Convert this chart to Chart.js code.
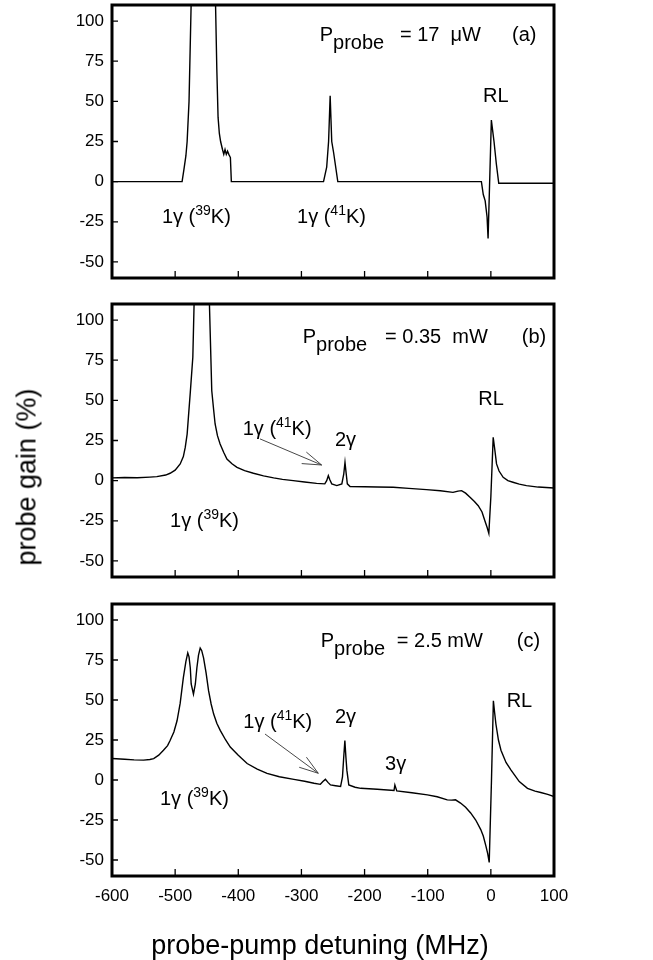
<!DOCTYPE html>
<html>
<head>
<meta charset="utf-8">
<script src="https://cdn.jsdelivr.net/npm/chart.js@4.4.0/dist/chart.umd.min.js"></script>
<style>
  body { margin: 0; background: #fff; width: 653px; height: 960px; position: relative; overflow: hidden;
         font-family: "Liberation Sans", Arial, sans-serif; }
  canvas { position: absolute; left: 0; }
  .ttl { position: absolute; font-size: 27px; color: #000; white-space: nowrap; }
  #ytitle { left: 27px; top: 477px; transform: translate(-50%, -50%) rotate(-90deg); }
  #xtitle { left: 320px; top: 945px; transform: translate(-50%, -50%); }
</style>
</head>
<body>
<canvas id="panel-a" width="653" height="290" style="top:0px"></canvas>
<canvas id="panel-b" width="653" height="300" style="top:290px"></canvas>
<canvas id="panel-c" width="653" height="370" style="top:590px"></canvas>
<div class="ttl" id="ytitle">probe gain (%)</div>
<div class="ttl" id="xtitle">probe-pump detuning (MHz)</div>
<script>
const xTicks = [-600, -500, -400, -300, -200, -100, 0, 100];
const yTicks = [-50, -25, 0, 25, 50, 75, 100];

// (a) P_probe = 17 uW
const detuningA = [-600, -489, -486, -483, -481, -478, -474.7, -470, -455, -440, -436, -434, -432, -430, -428,
  -425, -423, -421, -419, -417, -415, -412.5, -411, -265, -260, -257, -254.5, -252, -249, -242.4,
  -15, -12, -9, -6, -4.4, 0.8, 5, 8.7, 12.5, 100];
const gainA = [0, 0, 7.8, 16, 25, 50, 110, 200, 350, 200, 110, 70, 40, 30, 25,
  20, 17, 20, 17, 19, 17, 15, 0, 0, 9, 25, 53.5, 25, 18, 0,
  0, -8, -12, -22, -35.4, 38.3, 25, 11, -1, -1];

// (b) P_probe = 0.35 mW
const detuningB = [-600, -580, -560, -540, -529, -515, -508, -500, -492, -487, -484, -481, -479, -476, -472,
  -470, -465, -458, -450, -445.7, -442, -439, -436.7, -433, -428.8, -423, -418, -410, -402, -390,
  -376, -360, -344, -330, -313, -295, -276, -263, -260, -257.4, -255, -252, -244, -236, -233,
  -231, -229, -227.3, -223, -200, -180, -154.6, -130, -102, -80, -60, -52, -46.4, -40, -33,
  -26, -20, -14, -9.5, -6, -3.2, 0, 3.7, 6, 9, 13, 19.5, 27, 35, 45, 56.4, 75, 100];
const gainB = [1.7, 2, 1.8, 2.2, 2.5, 3.5, 4.6, 6.5, 10.4, 15, 20.7, 29, 39.4, 55, 76.8,
  110, 180, 250, 180, 110, 56, 44, 35.3, 28, 22.8, 17.5, 13.5, 10.5, 8.3, 6.2,
  4.6, 3, 1.7, 0.8, 0, -0.8, -1.7, -2, 0, 3.1, 0.5, -2, -3.1, -2, 4,
  11.4, 4, -2, -3.7, -3.8, -4, -4.1, -4.8, -5.6, -6.3, -7.3, -6.5, -6.2, -7.8, -10.4,
  -13, -15.6, -19.5, -25, -29, -32.8, -10, 27, 20, 10.4, 6, 2.1, 0, -1, -2.2, -3.1, -4, -4.6];

// (c) P_probe = 2.5 mW
const detuningC = [-600, -580, -565, -550, -540, -534, -526, -518.5, -512, -508, -502, -497, -492, -487, -483,
  -480, -478, -476, -474.6, -471, -468, -465.6, -463, -460.3, -458, -455, -451, -447, -443, -439,
  -434, -428.6, -420, -412.7, -400, -386, -370, -354.5, -335, -312, -295, -280, -270, -266, -262,
  -258, -254, -246, -238, -235, -233, -231.2, -229.5, -228, -225, -215, -206, -180, -153.4, -152,
  -149, -125, -100.5, -85, -69, -62, -56, -48, -40, -32, -24, -16, -12, -8, -5,
  -2.6, 1, 4, 6, 8, 12, 16, 24, 32, 45, 58, 70, 79, 90, 100];
const gainC = [13.4, 13, 12.6, 12.4, 12.8, 13.4, 15.5, 18.6, 21.5, 24.7, 30, 37, 48, 64, 74,
  79.4, 77, 70, 60, 53.6, 60, 70, 78, 82.5, 81, 76.3, 67, 55.7, 47.5, 41.2,
  35.5, 31, 25, 20.6, 15.5, 10.3, 6.8, 4.1, 2, 0.4, -0.8, -2, -2.7, -1, 0.4,
  -1.5, -3.1, -3.6, -4.1, 2, 14.4, 24.7, 14, 6, -3.1, -4.5, -5.2, -5.8, -6.6, -3.1,
  -6.8, -8, -9.3, -10.5, -12.4, -12.6, -12.4, -14.4, -17, -20.6, -25, -31, -35, -41, -46,
  -51.5, 0, 49.5, 42, 35, 25, 18.6, 11, 6.2, -1, -5.2, -7, -7.8, -9, -10.3];

// text notes: [markup, detuning, gain]  (_{..} subscript, ^{..} superscript)
const notesA = [
  ["P_{probe}", -271, 87.6], ["= 17  \u03bcW", -144, 87.6], ["(a)", 33.5, 87.6],
  ["1\u03b3 (^{39}K)", -521, -25.7], ["1\u03b3 (^{41}K)", -307, -25.7], ["RL", -12.4, 49.6]
];
const notesB = [
  ["P_{probe}", -298, 85.5], ["= 0.35  mW", -167.6, 85.5], ["(b)", 49, 85.5],
  ["1\u03b3 (^{41}K)", -393, 28.4], ["2\u03b3", -247, 21.6], ["RL", -20, 47.1],
  ["1\u03b3 (^{39}K)", -508, -29]
];
const notesC = [
  ["P_{probe}", -269.5, 83.3], ["= 2.5 mW", -149, 83.3], ["(c)", 41, 83.3],
  ["1\u03b3 (^{41}K)", -392, 32.3], ["2\u03b3", -247, 35.4], ["3\u03b3", -167.6, 6.25],
  ["RL", 25, 45.8], ["1\u03b3 (^{39}K)", -524, -15.6]
];
// arrows: [from detuning, from gain, to detuning, to gain]
const arrowsB = [[-365.6, 26, -268, 9.75]];
const arrowsC = [[-357.7, 28.75, -273.3, 4.2]];

const FONT = '"Liberation Sans", Arial, sans-serif';
Chart.defaults.font.family = FONT;

function parse_runs(str) {
  const out = [];
  const re = /([_^])\{([^}]*)\}|[^_^]+/g;
  let m;
  while ((m = re.exec(str))) {
    if (m[1]) out.push({ t: m[2], kind: m[1] });
    else out.push({ t: m[0], kind: "" });
  }
  return out;
}

const panelPlugin = {
  id: "panelDecor",
  afterDatasetsDraw(chart) {
    const ctx = chart.ctx;
    const area = chart.chartArea;
    const xs = chart.scales.x, ys = chart.scales.y;
    const cfg = chart.options.plugins.panelDecor;
    ctx.save();
    // frame
    ctx.strokeStyle = "#000";
    ctx.lineWidth = 3;
    ctx.strokeRect(area.left, area.top, area.right - area.left, area.bottom - area.top);
    // inward ticks
    ctx.lineWidth = 1.3;
    ctx.beginPath();
    xTicks.forEach(v => {
      const px = xs.getPixelForValue(v);
      ctx.moveTo(px, area.bottom);
      ctx.lineTo(px, area.bottom - 7);
    });
    yTicks.forEach(v => {
      const py = ys.getPixelForValue(v);
      ctx.moveTo(area.left, py);
      ctx.lineTo(area.left + 6, py);
    });
    ctx.stroke();
    // notes
    ctx.fillStyle = "#000";
    ctx.textBaseline = "alphabetic";
    ctx.textAlign = "left";
    cfg.notes.forEach(([txt, dx, gy]) => {
      let x = xs.getPixelForValue(dx);
      const y = ys.getPixelForValue(gy);
      parse_runs(txt).forEach(r => {
        const size = r.kind === "^" ? 14 : 20;
        const dy = r.kind === "^" ? -8 : (r.kind === "_" ? 8 : 0);
        ctx.font = size + "px " + FONT;
        ctx.fillText(r.t, x, y + dy);
        x += ctx.measureText(r.t).width;
      });
    });
    // arrows
    ctx.strokeStyle = "#333";
    ctx.lineWidth = 0.9;
    cfg.arrows.forEach(([x1, y1, x2, y2]) => {
      const ax = xs.getPixelForValue(x1), ay = ys.getPixelForValue(y1);
      const bx = xs.getPixelForValue(x2), by = ys.getPixelForValue(y2);
      const ang = Math.atan2(ay - by, ax - bx);
      ctx.beginPath();
      ctx.moveTo(ax, ay);
      ctx.lineTo(bx, by);
      [0.3, -0.33].forEach(d => {
        ctx.moveTo(bx, by);
        ctx.lineTo(bx + 20 * Math.cos(ang + d), by + 20 * Math.sin(ang + d));
      });
      ctx.stroke();
    });
    ctx.restore();
  }
};

function no_pad(s) {
  s.paddingTop = 0;
  s.paddingBottom = 0;
  s.paddingLeft = 0;
  s.paddingRight = 0;
}

function make_panel(id, detuning, gain, notes, arrows, padTop, xHeight, showX) {
  const ctx = document.getElementById(id);
  const points = detuning.map((d, i) => ({ x: d, y: gain[i] }));
  return new Chart(ctx, {
    type: "line",
    data: {
      datasets: [{
        data: points,
        borderColor: "#000",
        borderWidth: 1.4,
        pointRadius: 0,
        tension: 0,
        fill: false
      }]
    },
    options: {
      responsive: false,
      animation: false,
      layout: { padding: { left: 0, right: 99, top: padTop, bottom: 0 } },
      plugins: {
        legend: { display: false },
        tooltip: { enabled: false },
        panelDecor: { notes: notes, arrows: arrows }
      },
      scales: {
        x: {
          type: "linear",
          min: -600,
          max: 100,
          afterBuildTicks: s => { s.ticks = xTicks.map(v => ({ value: v })); },
          afterFit: s => { s.height = xHeight; no_pad(s); },
          grid: { display: false, drawTicks: false },
          border: { display: false },
          ticks: { display: showX, color: "#000", font: { size: 17 }, padding: 10, autoSkip: false, maxRotation: 0 }
        },
        y: {
          min: -60,
          max: 110,
          afterBuildTicks: s => { s.ticks = yTicks.map(v => ({ value: v })); },
          afterFit: s => { s.width = 112; no_pad(s); },
          grid: { display: false, drawTicks: false },
          border: { display: false },
          ticks: { color: "#000", font: { size: 17 }, padding: 8 }
        }
      }
    },
    plugins: [panelPlugin]
  });
}

make_panel("panel-a", detuningA, gainA, notesA, [], 5, 12, false);
make_panel("panel-b", detuningB, gainB, notesB, arrowsB, 14, 13, false);
make_panel("panel-c", detuningC, gainC, notesC, arrowsC, 14, 84, true);
</script>
</body>
</html>
